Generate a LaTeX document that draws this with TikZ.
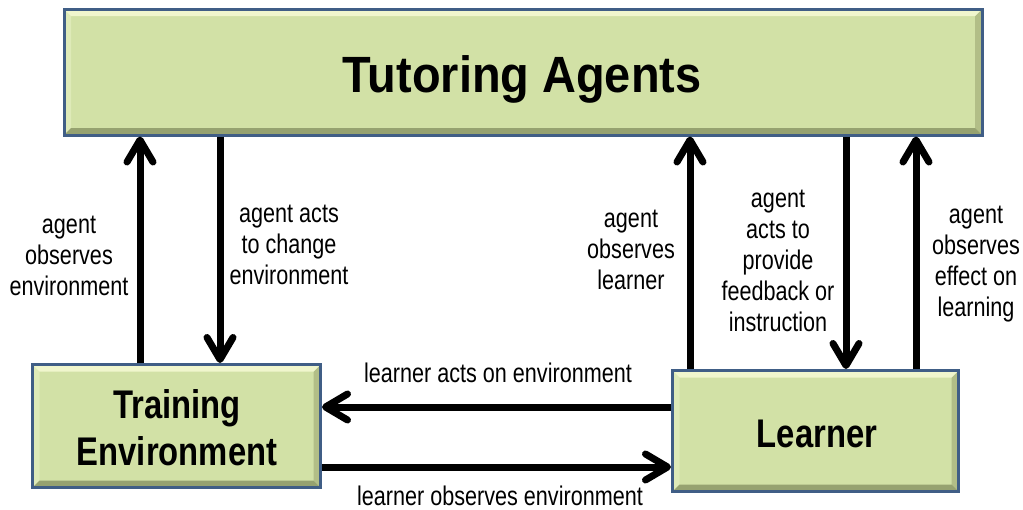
\documentclass[tikz,border=0pt]{standalone}
\usepackage{fontspec}
\setmainfont{Liberation Sans}
\newfontfamily\lblfont[FakeStretch=0.8]{Liberation Sans}
\newfontfamily\boxfont[FakeStretch=0.82]{Liberation Sans}
\newfontfamily\ttlfont[FakeStretch=0.92]{Liberation Sans}
\usetikzlibrary{arrows.meta,calc}
\definecolor{boxgreen}{RGB}{210,225,166}
\definecolor{boxblue}{RGB}{64,94,134}
\definecolor{bevlight}{RGB}{240,246,205}
\definecolor{bevdark}{RGB}{150,162,112}
\definecolor{bevmid}{RGB}{178,190,135}
\definecolor{bevleft}{RGB}{222,234,184}
\tikzset{
  bevbox/.style={draw=boxblue, line width=3pt, fill=boxgreen, inner sep=0pt,
    path picture={
      \coordinate (pnw) at (path picture bounding box.north west);
      \coordinate (pne) at (path picture bounding box.north east);
      \coordinate (psw) at (path picture bounding box.south west);
      \coordinate (pse) at (path picture bounding box.south east);
      \fill[bevleft] (pnw) -- ($(pnw)+(7pt,-7pt)$) -- ($(psw)+(7pt,7pt)$) -- (psw) -- cycle;
      \fill[bevmid] (pne) -- ($(pne)+(-7pt,-7pt)$) -- ($(pse)+(-7pt,7pt)$) -- (pse) -- cycle;
      \fill[bevlight] (pnw) -- (pne) -- ($(pne)+(-7pt,-7pt)$) -- ($(pnw)+(7pt,-7pt)$) -- cycle;
      \fill[bevdark] (psw) -- (pse) -- ($(pse)+(-7pt,7pt)$) -- ($(psw)+(7pt,7pt)$) -- cycle;
    }},
  arr/.style={line width=7pt, -{Straight Barb[length=22pt,width=26pt,line cap=round,line join=round]}},
  lbl/.style={font=\lblfont\fontsize{27}{31}\selectfont, align=center, inner sep=0pt, anchor=base},
  boxtxt/.style={font=\boxfont\bfseries\fontsize{40}{47}\selectfont, align=center, inner sep=0pt, anchor=base},
  ttltxt/.style={font=\ttlfont\bfseries\fontsize{51}{60}\selectfont, inner sep=0pt, anchor=base}
}
\begin{document}
\begin{tikzpicture}[x=1pt,y=-1pt]
\useasboundingbox (0,0) rectangle (1023,509);
% boxes
\node[bevbox, minimum width=918pt, minimum height=126pt] (ta) at (523,72) {};
\node[bevbox, minimum width=288pt, minimum height=123pt] (te) at (176.5,426) {};
\node[bevbox, minimum width=286pt, minimum height=121pt] (le) at (815.5,431) {};
% box texts (anchor=base is the last line's baseline)
\node[ttltxt] (tat) at (522,92) {Tutoring Agents};
\node[boxtxt] (tet) at (177,465) {Training\\Environment};
\node[boxtxt] (let) at (817,447) {Learner};
% arrow positions
\coordinate (c1) at (140,0);
\coordinate (c2) at (220,0);
\coordinate (c3) at (690,0);
\coordinate (c4) at (846,0);
\coordinate (c5) at (916,0);
\coordinate (r1) at (0,407);
\coordinate (r2) at (0,467);
% vertical arrows
\draw[arr] (c1 |- te.north) -- (c1 |- ta.south);
\draw[arr] (c2 |- ta.south) -- (c2 |- te.north);
\draw[arr] (c3 |- le.north) -- (c3 |- ta.south);
\draw[arr] (c4 |- ta.south) -- (c4 |- le.north);
\draw[arr] (c5 |- le.north) -- (c5 |- ta.south);
% horizontal arrows
\draw[arr] (le.west |- r1) -- (te.east |- r1);
\draw[arr] (te.east |- r2) -- (le.west |- r2);
% labels
\node[lbl] (l1) at (69,295) {agent\\observes\\environment};
\node[lbl] (l2) at (289,284) {agent acts\\to change\\environment};
\node[lbl] (l3) at (631,289) {agent\\observes\\learner};
\node[lbl] (l4) at (778,331) {agent\\acts to\\provide\\feedback or\\instruction};
\node[lbl] (l5) at (976,316) {agent\\observes\\effect on\\learning};
\node[lbl] (l6) at (498,382) {learner acts on environment};
\node[lbl] (l7) at (500,505) {learner observes environment};
\end{tikzpicture}
\end{document}
